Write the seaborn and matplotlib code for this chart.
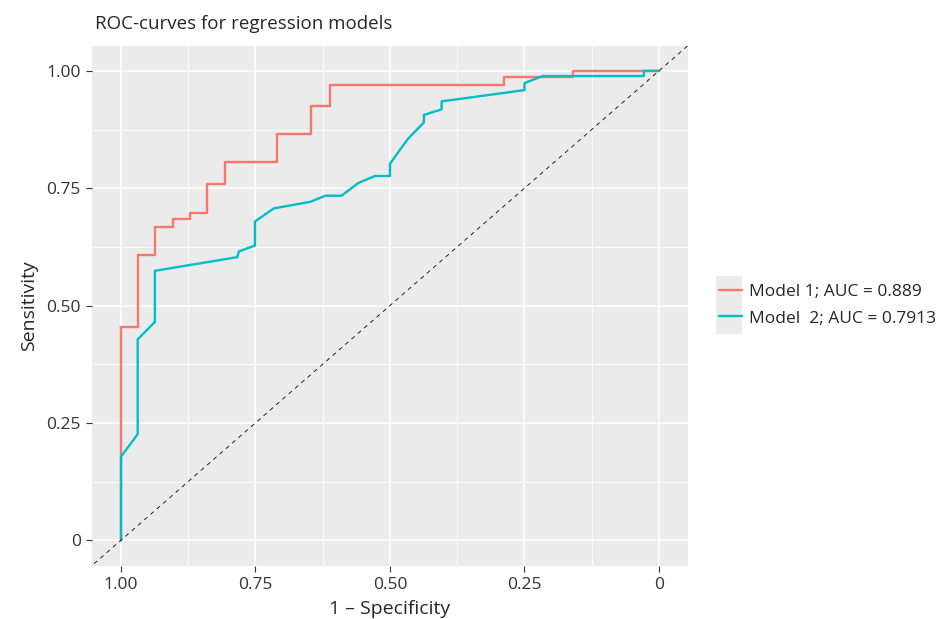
import pandas as pd
import matplotlib
matplotlib.use("Agg")
import matplotlib.pyplot as plt
from matplotlib.patches import Rectangle
from matplotlib.ticker import FixedLocator
import seaborn as sns

# ROC points (specificity, sensitivity)
spec1 = [1.00, 1.00, 1.00, 0.969, 0.969, 0.937, 0.937, 0.903, 0.903, 0.872, 0.872,
         0.840, 0.840, 0.807, 0.807, 0.710, 0.710, 0.646, 0.646, 0.611, 0.611,
         0.288, 0.288, 0.159, 0.159, 0.0]
sens1 = [0.0, 0.178, 0.455, 0.455, 0.608, 0.608, 0.668, 0.668, 0.684, 0.684, 0.698,
         0.698, 0.759, 0.759, 0.805, 0.805, 0.865, 0.865, 0.925, 0.925, 0.970,
         0.970, 0.986, 0.986, 1.0, 1.0]

spec2 = [1.00, 1.00, 0.969, 0.969, 0.937, 0.937, 0.784, 0.781, 0.751, 0.751, 0.716,
         0.648, 0.620, 0.590, 0.559, 0.528, 0.500, 0.500, 0.475, 0.466, 0.437, 0.437,
         0.404, 0.404, 0.250, 0.250, 0.216, 0.028, 0.028, 0.0]
sens2 = [0.0, 0.178, 0.226, 0.428, 0.465, 0.574, 0.603, 0.615, 0.628, 0.679, 0.707,
         0.721, 0.734, 0.734, 0.761, 0.776, 0.776, 0.802, 0.842, 0.856, 0.890, 0.906,
         0.918, 0.935, 0.959, 0.974, 0.989, 0.989, 1.0, 1.0]

labels = ["Model 1; AUC = 0.889", "Model  2; AUC = 0.7913"]
colors = ["#F8766D", "#00BFC4"]
ticks = [1.00, 0.75, 0.50, 0.25, 0.0]
tick_labels = ["1.00", "0.75", "0.50", "0.25", "0"]
minor = [0.875, 0.625, 0.375, 0.125]

df = pd.concat([
    pd.DataFrame({"spec": spec1, "sens": sens1, "model": labels[0]}),
    pd.DataFrame({"spec": spec2, "sens": sens2, "model": labels[1]}),
])

sns.set_style("darkgrid", {"axes.facecolor": "#EBEBEB", "grid.color": "white"})
plt.rcParams["font.family"] = ["Open Sans", "DejaVu Sans"]

fig = plt.figure(figsize=(9.47, 6.19), dpi=100)
ax = fig.add_axes([0.0971, 0.0856, 0.6294, 0.8401])

sns.lineplot(data=df, x="spec", y="sens", hue="model", palette=colors,
             sort=False, estimator=None, linewidth=1.7, ax=ax, legend=False)
ax.axline((1, 0), (0, 1), color="black", lw=0.6, ls=(0, (5, 5)))

ax.set_xlim(1.054, -0.054)
ax.set_ylim(-0.055, 1.053)
ax.set_xticks(ticks)
ax.set_xticklabels(tick_labels)
ax.set_yticks(ticks)
ax.set_yticklabels(tick_labels)
ax.xaxis.set_minor_locator(FixedLocator(minor))
ax.yaxis.set_minor_locator(FixedLocator(minor))
ax.grid(which="major", color="white", lw=1.1)
ax.grid(which="minor", color="white", lw=0.55)
ax.tick_params(which="major", length=4, width=0.8, color="#333333", labelsize=12.5,
               labelcolor="#333333", pad=4, bottom=True, left=True)
ax.tick_params(which="minor", length=0)
for s in ax.spines.values():
    s.set_visible(False)

ax.set_xlabel("1 – Specificity", fontsize=14, labelpad=5)
ax.set_ylabel("Sensitivity", fontsize=14, labelpad=6)
ax.set_title("ROC-curves for regression models", fontsize=13.5, loc="left", pad=12, x=0.005)

handles = [plt.Line2D([], [], color=c, lw=1.7) for c in colors]
fig.patches.append(Rectangle((716 / 947, 1 - 334 / 619), 26 / 947, 58 / 619,
                             transform=fig.transFigure, facecolor="#EBEBEB",
                             edgecolor="none", zorder=0))
leg = fig.legend(handles, labels, loc="center left", bbox_to_anchor=(0.752, 0.507),
                 frameon=False, fontsize=12.5, handlelength=1.3, handletextpad=0.45,
                 labelspacing=0.6, borderaxespad=0)

fig.savefig("out.png", dpi=100)
